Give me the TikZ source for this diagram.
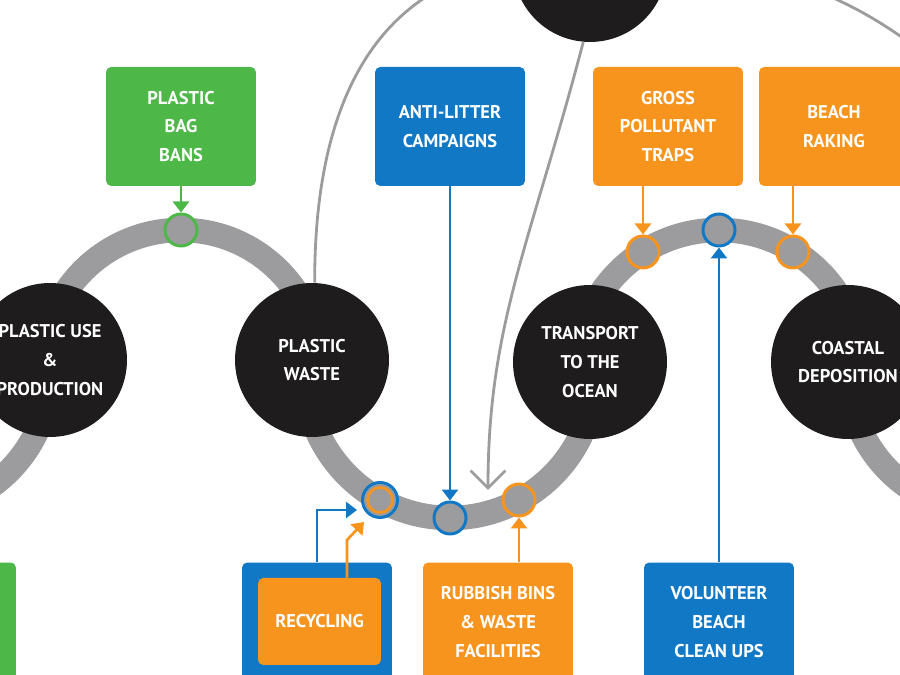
\documentclass[tikz,border=0pt]{standalone}
\usepackage{fontspec}
\setmainfont{PT Sans}
\usepackage{xcolor}
\definecolor{leaf}{HTML}{4DB848}
\definecolor{sea}{HTML}{1178C6}
\definecolor{amber}{HTML}{F7941E}
\definecolor{ink}{HTML}{1E1C1C}
\definecolor{stone}{HTML}{9C9C9E}
\usetikzlibrary{arrows.meta,positioning,calc}

\begin{document}
\begin{tikzpicture}[
  x=0.02cm,y=0.02cm,
  lbl/.style={text=white,align=center,font=\bfseries\fontsize{10.5}{16.4}\selectfont},
  stage/.style={lbl,circle,fill=ink,minimum size=3.08cm,inner sep=0pt},
  box/.style={lbl,rounded corners=3pt,minimum width=3cm,minimum height=2.38cm,inner sep=0pt},
  ring/.style={circle,draw,fill=stone,line width=1.7pt,minimum size=0.64cm,inner sep=0pt},
  wave/.style={line width=14pt,draw=stone},
  link/.style={line width=1.6pt,draw=stone},
  ar/.style={-{Triangle[length=2.2mm,width=3.2mm]},line width=1.5pt}
]
\useasboundingbox (0,0) rectangle (900,675);
\clip (0,0) rectangle (900,675);

% the wave
\draw[wave] (50,303) arc[start angle=0,end angle=-90,radius=140];
\draw[wave] (43,307) arc[start angle=180,end angle=0,radius=138];
\draw[wave] (305,302) arc[start angle=180,end angle=360,radius=145];
\draw[wave] (577,303) arc[start angle=180,end angle=0,radius=142];
\draw[wave] (848,303) arc[start angle=180,end angle=360,radius=140];

% stages
\node[stage] (c0) at (590,710) {};
\node[stage] (c1) at (50,315) {PLASTIC USE\\\&\\PRODUCTION};
\node[stage] (c2) at (312,315) {PLASTIC\\WASTE};
\node[stage] (c3) at (590,313) {TRANSPORT\\TO THE\\OCEAN};
\node[stage] (c4) at (848,313) {COASTAL\\DEPOSITION};

% thin grey links
\draw[link] (c2.88) .. controls (314,660) and (450,700) .. (c0.west);
\draw[link,-{Straight Barb[length=3.5mm,width=7mm]}] (c0.265) .. controls (530,430) and (488,350) .. (488,185);
\draw[link] (c0.east) .. controls (800,710) and (880,660) .. (950,600);

% markers on the wave
\node[ring,draw=leaf] (m1) at (181,445) {};
\node[ring,draw=sea,minimum size=0.7cm] (m2) at (380,175) {};
\node[circle,draw=amber,line width=1.5pt,minimum size=0.5cm,inner sep=0pt] at (m2) {};
\node[ring,draw=sea] (m3) at (450,157) {};
\node[ring,draw=amber] (m4) at (519,175) {};
\node[ring,draw=amber] (m5) at (643,423) {};
\node[ring,draw=sea] (m6) at (719,445) {};
\node[ring,draw=amber] (m7) at (793,423) {};

% measures
\node[box,fill=leaf] (bags) at (181,548.5) {PLASTIC\\BAG\\BANS};
\node[box,fill=sea] (litter) at (450,548.5) {ANTI-LITTER\\CAMPAIGNS};
\node[box,fill=amber] (traps) at (668,548.5) {GROSS\\POLLUTANT\\TRAPS};
\node[box,fill=amber] (raking) at (834,548.5) {BEACH\\RAKING};
\node[box,fill=leaf] (other) at (-59,53) {};
\node[box,fill=sea] (recout) at (317,53) {};
\node[box,fill=amber,minimum width=2.46cm,minimum height=1.74cm] (recin) at (319.5,53.5) {RECYCLING};
\node[box,fill=amber] (bins) at (498,53) {RUBBISH BINS\\\& WASTE\\FACILITIES};
\node[box,fill=sea] (clean) at (719,53) {VOLUNTEER\\BEACH\\CLEAN UPS};

% arrows into the wave
\coordinate (rb) at (357,165);
\coordinate (ro) at (347,135);
\coordinate (rt) at (364,153);
\draw[ar,draw=leaf] (bags) -- (m1);
\draw[ar,draw=sea] (litter) -- (m3);
\draw[ar,draw=amber] (traps.south -| m5) -- (m5);
\draw[ar,draw=amber] (raking.south -| m7) -- (m7);
\draw[ar,draw=sea] (clean) -- (m6);
\draw[ar,draw=amber] (bins.north -| m4) -- (m4);
\draw[ar,draw=sea] (recout.north) |- (rb);
\draw[ar,draw=amber] (recin.north -| ro) -- (ro) -- (rt);
\end{tikzpicture}
\end{document}
